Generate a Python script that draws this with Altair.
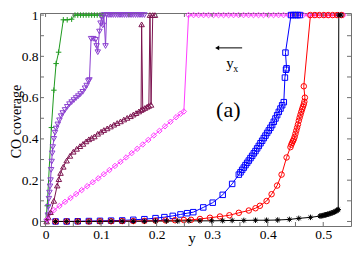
import altair as alt
import pandas as pd

# ---------------- data ----------------
green_x = [0.0, 0.003, 0.0105, 0.015, 0.019, 0.0235, 0.032, 0.039, 0.047, 0.053,
           0.058, 0.063, 0.068, 0.073, 0.078, 0.083, 0.088, 0.093, 0.098, 0.103]
green_y = [0.0, 0.076, 0.455, 0.636, 0.765, 0.82, 0.977, 0.977, 0.98, 1.0,
           1.0, 1.0, 1.0, 1.0, 1.0, 1.0, 1.0, 1.0, 1.0, 1.0]

purple_x = [0.002, 0.004, 0.005, 0.006, 0.007, 0.008, 0.009, 0.010, 0.011, 0.012,
            0.013, 0.015, 0.017, 0.019, 0.022, 0.025, 0.028, 0.031, 0.035, 0.039,
            0.043, 0.047, 0.051, 0.055, 0.059, 0.063, 0.067, 0.071, 0.074, 0.077,
            0.079, 0.082, 0.086, 0.090, 0.092, 0.094, 0.097, 0.099, 0.101, 0.103,
            0.105, 0.108, 0.110, 0.114, 0.118, 0.122, 0.126, 0.130, 0.134, 0.138,
            0.142, 0.146, 0.150, 0.154, 0.158, 0.162, 0.166, 0.170, 0.174, 0.178]
purple_y = [0.0, 0.03, 0.07, 0.11, 0.14, 0.17, 0.2, 0.25, 0.29, 0.33,
            0.36, 0.40, 0.43, 0.45, 0.47, 0.49, 0.51, 0.525, 0.54, 0.555,
            0.568, 0.578, 0.588, 0.598, 0.607, 0.617, 0.628, 0.645, 0.658, 0.68,
            0.685, 0.885, 0.885, 0.88, 0.85, 0.82, 0.92, 0.96, 0.99, 0.95,
            1.0, 0.85, 1.0, 1.0, 1.0, 1.0, 1.0, 1.0, 1.0, 1.0,
            1.0, 1.0, 1.0, 1.0, 1.0, 1.0, 1.0, 1.0, 1.0, 1.0]

maroon_x = [0.002, 0.005, 0.009, 0.015, 0.021, 0.024, 0.027, 0.032, 0.038, 0.044,
            0.050, 0.056, 0.062, 0.0675, 0.073, 0.078, 0.083, 0.088, 0.094, 0.100,
            0.105, 0.111, 0.117, 0.123, 0.129, 0.135, 0.141, 0.147, 0.153, 0.158,
            0.163, 0.168, 0.172, 0.173, 0.175, 0.179, 0.183, 0.186, 0.188, 0.190,
            0.193, 0.197]
maroon_y = [0.0, 0.02, 0.045, 0.1, 0.174, 0.205, 0.235, 0.265, 0.295, 0.318,
            0.338, 0.352, 0.365, 0.376, 0.388, 0.398, 0.405, 0.412, 0.425, 0.435,
            0.443, 0.451, 0.46, 0.469, 0.477, 0.485, 0.494, 0.502, 0.51, 0.518,
            0.525, 0.533, 0.54, 0.955, 0.545, 0.55, 0.556, 0.56, 1.0, 0.565,
            1.0, 1.0]

magenta_x = [0.003, 0.015, 0.025, 0.035, 0.045, 0.055, 0.065, 0.075, 0.085, 0.095,
             0.105, 0.115, 0.125, 0.135, 0.145, 0.155, 0.165, 0.175, 0.185, 0.195,
             0.205, 0.215, 0.225, 0.235, 0.243, 0.249,
             0.2575, 0.2665, 0.2755, 0.2845, 0.2935, 0.3025, 0.3115, 0.3205, 0.3295, 0.3385,
             0.3475, 0.3565, 0.3655, 0.3745, 0.3835, 0.3925, 0.4015, 0.4105, 0.4195, 0.4285,
             0.4375, 0.4465, 0.4555, 0.4645, 0.4735, 0.4825, 0.4915, 0.5005, 0.5095, 0.5185,
             0.5275, 0.5365]
magenta_y = [0.01, 0.055, 0.075, 0.095, 0.114, 0.133, 0.152, 0.171, 0.19, 0.209,
             0.229, 0.249, 0.269, 0.289, 0.31, 0.331, 0.352, 0.373, 0.395, 0.417,
             0.439, 0.461, 0.483, 0.505, 0.522, 0.533] + [1.0] * 32

blue_x_low = [0.018, 0.038, 0.058, 0.078, 0.098, 0.118, 0.138, 0.158, 0.178, 0.198,
              0.214, 0.229, 0.243, 0.255, 0.266, 0.284, 0.301, 0.319, 0.336, 0.348]
blue_y_low = [0.0, 0.0, 0.001, 0.002, 0.003, 0.004, 0.005, 0.008, 0.011, 0.016,
              0.021, 0.027, 0.034, 0.04, 0.045, 0.068, 0.091, 0.129, 0.182, 0.227]
blue_x_mid = [0.351, 0.354, 0.357, 0.360, 0.363, 0.366, 0.369, 0.372, 0.375, 0.378,
              0.381, 0.384, 0.387, 0.390, 0.393, 0.396, 0.399, 0.402, 0.405, 0.408,
              0.411, 0.414, 0.417, 0.420, 0.423, 0.426, 0.429]
blue_y_mid = [0.238, 0.250, 0.261, 0.273, 0.284, 0.295, 0.307, 0.318, 0.330, 0.341,
              0.354, 0.366, 0.379, 0.391, 0.404, 0.416, 0.429, 0.441, 0.454, 0.467,
              0.483, 0.499, 0.515, 0.531, 0.547, 0.563, 0.578]
blue_x_top = [0.431, 0.433, 0.434, 0.432, 0.442, 0.446, 0.450, 0.454, 0.458]
blue_y_top = [0.697, 0.735, 0.742, 0.818, 1.0, 1.0, 1.0, 1.0, 1.0]

red_x_low = [0.018, 0.038, 0.058, 0.078, 0.098, 0.118, 0.138, 0.158, 0.178, 0.198,
             0.216, 0.233, 0.249, 0.262, 0.278, 0.296, 0.314, 0.331, 0.348, 0.366,
             0.378, 0.386, 0.398, 0.407, 0.417, 0.425, 0.434, 0.441]
red_y_low = [0.0, 0.0, 0.0, 0.0, 0.001, 0.001, 0.002, 0.002, 0.003, 0.004,
             0.005, 0.006, 0.007, 0.008, 0.012, 0.018, 0.024, 0.03, 0.042, 0.053,
             0.064, 0.076, 0.099, 0.132, 0.174, 0.227, 0.31, 0.36]
red_x_mid = [0.4425, 0.444, 0.4455, 0.447, 0.4485, 0.45, 0.4515, 0.453, 0.4545, 0.456,
             0.4575, 0.459, 0.4605, 0.462, 0.4635, 0.465, 0.466, 0.467]
red_y_mid = [0.372, 0.381, 0.39, 0.398, 0.41, 0.425, 0.44, 0.455, 0.47, 0.488,
             0.503, 0.517, 0.531, 0.544, 0.556, 0.568, 0.58, 0.6]
red_x_top = [0.465, 0.477, 0.485, 0.493, 0.501, 0.509, 0.517, 0.525, 0.533]
red_y_top = [0.655, 1.0, 1.0, 1.0, 1.0, 1.0, 1.0, 1.0, 1.0]

black_x_low = [0.018, 0.038, 0.058, 0.078, 0.098, 0.118, 0.138, 0.158, 0.178, 0.198,
               0.218, 0.238, 0.258, 0.278, 0.299, 0.319, 0.336, 0.357, 0.378, 0.398,
               0.418, 0.439, 0.456, 0.477]
black_y_low = [0.0, 0.0, 0.0, 0.0, 0.0, 0.001, 0.001, 0.001, 0.001, 0.002,
               0.002, 0.002, 0.003, 0.003, 0.003, 0.004, 0.005, 0.005, 0.006, 0.006,
               0.007, 0.01, 0.015, 0.02]
black_x_mid = [0.494, 0.496, 0.498, 0.500, 0.502, 0.504, 0.506, 0.508, 0.510, 0.512,
               0.514, 0.516, 0.518, 0.520, 0.522, 0.524, 0.526, 0.527]
black_y_mid = [0.026, 0.027, 0.028, 0.029, 0.031, 0.032, 0.033, 0.035, 0.036, 0.038,
               0.04, 0.042, 0.044, 0.046, 0.049, 0.052, 0.055, 0.058]
black_x_top = [0.528, 0.532]
black_y_top = [1.0, 1.0]

x_labels = [0, 0.1, 0.2, 0.3, 0.4, 0.5]
y_labels = [0, 0.2, 0.4, 0.6, 0.8, 1.0]
x_ticks = [0, 0.05, 0.1, 0.15, 0.2, 0.25, 0.3, 0.35, 0.4, 0.45, 0.5]
y_ticks = [0, 0.1, 0.2, 0.3, 0.4, 0.5, 0.6, 0.7, 0.8, 0.9, 1.0]
x_title = ["y"]
y_title = ["CO coverage"]

series_names = ["green", "purple", "maroon", "magenta", "blue", "red", "black"]
series_colors = ["#1f9a1f", "#8b40d0", "#7d1450", "#ff3cff", "#0000ff", "#ff0000", "#000000"]
PLUS = "M-1,0H1M0,-1V1"
STAR = "M-1,0H1M0,-1V1M-0.7,-0.7L0.7,0.7M-0.7,0.7L0.7,-0.7"
series_shapes = [PLUS, "triangle-down", "triangle-up", "diamond", "square", "circle", STAR]

# ---------------- build table ----------------
series_data = [
    ("green", green_x, green_y),
    ("purple", purple_x, purple_y),
    ("maroon", maroon_x, maroon_y),
    ("magenta", magenta_x, magenta_y),
    ("blue", blue_x_low + blue_x_mid + blue_x_top, blue_y_low + blue_y_mid + blue_y_top),
    ("red", red_x_low + red_x_mid + red_x_top, red_y_low + red_y_mid + red_y_top),
    ("black", black_x_low + black_x_mid + black_x_top, black_y_low + black_y_mid + black_y_top),
]
rows = []
for name, xs, ys in series_data:
    for i, (xv, yv) in enumerate(zip(xs, ys)):
        rows.append({"s": name, "x": xv, "y": yv, "i": i})
df = pd.DataFrame(rows)

W, H = 311, 213
FONT = "Liberation Serif"
FRAME = "#707070"

xscale = alt.Scale(domain=[-0.01, 0.55], nice=False, zero=False)
yscale = alt.Scale(domain=[-0.022, 1.01], nice=False, zero=False)
cscale = alt.Scale(domain=series_names, range=series_colors)
sscale = alt.Scale(domain=series_names, range=series_shapes)

xaxis = alt.Axis(values=x_labels, format="~g", title=None, ticks=False, domain=False,
                 grid=False, labelPadding=1, labelFlush=False)
yaxis = alt.Axis(values=y_labels, format="~g", title=None, ticks=False,
                 domain=False, grid=False, labelPadding=2, labelFlush=False)

base = alt.Chart(df)
lines = base.mark_line(strokeWidth=1).encode(
    x=alt.X("x:Q", scale=xscale, axis=xaxis),
    y=alt.Y("y:Q", scale=yscale, axis=yaxis),
    color=alt.Color("s:N", scale=cscale, legend=None),
    detail="s:N",
    order=alt.Order("i:Q"),
)
points = base.mark_point(filled=False, strokeWidth=1, size=30, opacity=1).encode(
    x=alt.X("x:Q", scale=xscale),
    y=alt.Y("y:Q", scale=yscale),
    color=alt.Color("s:N", scale=cscale, legend=None),
    shape=alt.Shape("s:N", scale=sscale, legend=None),
)

xt = pd.DataFrame({"v": x_ticks})
yt = pd.DataFrame({"v": y_ticks})
tick_bottom = alt.Chart(xt).mark_rule(color=FRAME).encode(
    x=alt.X("v:Q", scale=xscale), y=alt.value(H), y2=alt.value(H - 4))
tick_top = alt.Chart(xt).mark_rule(color=FRAME).encode(
    x=alt.X("v:Q", scale=xscale), y=alt.value(0), y2=alt.value(4))
tick_left = alt.Chart(yt).mark_rule(color=FRAME).encode(
    y=alt.Y("v:Q", scale=yscale), x=alt.value(0), x2=alt.value(4))
tick_right = alt.Chart(yt).mark_rule(color=FRAME).encode(
    y=alt.Y("v:Q", scale=yscale), x=alt.value(W), x2=alt.value(W - 4))

# axis titles drawn as text
ytitle = alt.Chart(pd.DataFrame({"t": y_title})).mark_text(
    font=FONT, fontSize=14, angle=270, baseline="alphabetic", align="center",
    color="black").encode(x=alt.value(-19), y=alt.value(H / 2 + 2), text="t:N")
xtitle = alt.Chart(pd.DataFrame({"t": x_title})).mark_text(
    font=FONT, fontSize=15, baseline="alphabetic", align="center",
    color="black").encode(x=alt.value(152), y=alt.value(H + 16.5), text="t:N")

# annotations
arrow_df = pd.DataFrame({"x": [0.309], "x2": [0.354], "y": [0.841]})
arrow_line = alt.Chart(arrow_df).mark_rule(color="black", strokeWidth=1).encode(
    x=alt.X("x:Q", scale=xscale), x2="x2:Q",
    y=alt.Y("y:Q", scale=yscale))
arrow_head = alt.Chart(arrow_df).mark_point(shape="triangle-left", filled=True, size=22,
                                             color="black", opacity=1).encode(
    x=alt.X("x:Q", scale=xscale), y=alt.Y("y:Q", scale=yscale))

txt_df = pd.DataFrame({"x": [0.332, 0.329], "y": [0.745, 0.506], "t": ["y", "(a)"],
                       "fs": [15, 22]})
txt_main = alt.Chart(txt_df).mark_text(font=FONT, baseline="alphabetic", align="center",
                                       color="black").encode(
    x=alt.X("x:Q", scale=xscale), y=alt.Y("y:Q", scale=yscale),
    text="t:N", size=alt.Size("fs:Q", scale=None, legend=None))
sub_df = pd.DataFrame({"x": [0.3425], "y": [0.722], "t": ["x"]})
txt_sub = alt.Chart(sub_df).mark_text(font=FONT, baseline="alphabetic", align="center",
                                      fontSize=10, color="black").encode(
    x=alt.X("x:Q", scale=xscale), y=alt.Y("y:Q", scale=yscale),
    text="t:N")

chart = alt.layer(
    lines, points, tick_bottom, tick_top, tick_left, tick_right,
    arrow_line, arrow_head, txt_main, txt_sub, ytitle, xtitle
).properties(
    width=W, height=H,
    autosize=alt.AutoSizeParams(type="none"),
    padding={"left": 32, "top": 5, "right": 1, "bottom": 20},
).configure_view(
    stroke=FRAME, strokeWidth=1
).configure_axis(
    labelFont=FONT, labelFontSize=13.5, labelColor="black"
)

chart.save("out.html", embed_options={"renderer": "svg", "actions": False})
